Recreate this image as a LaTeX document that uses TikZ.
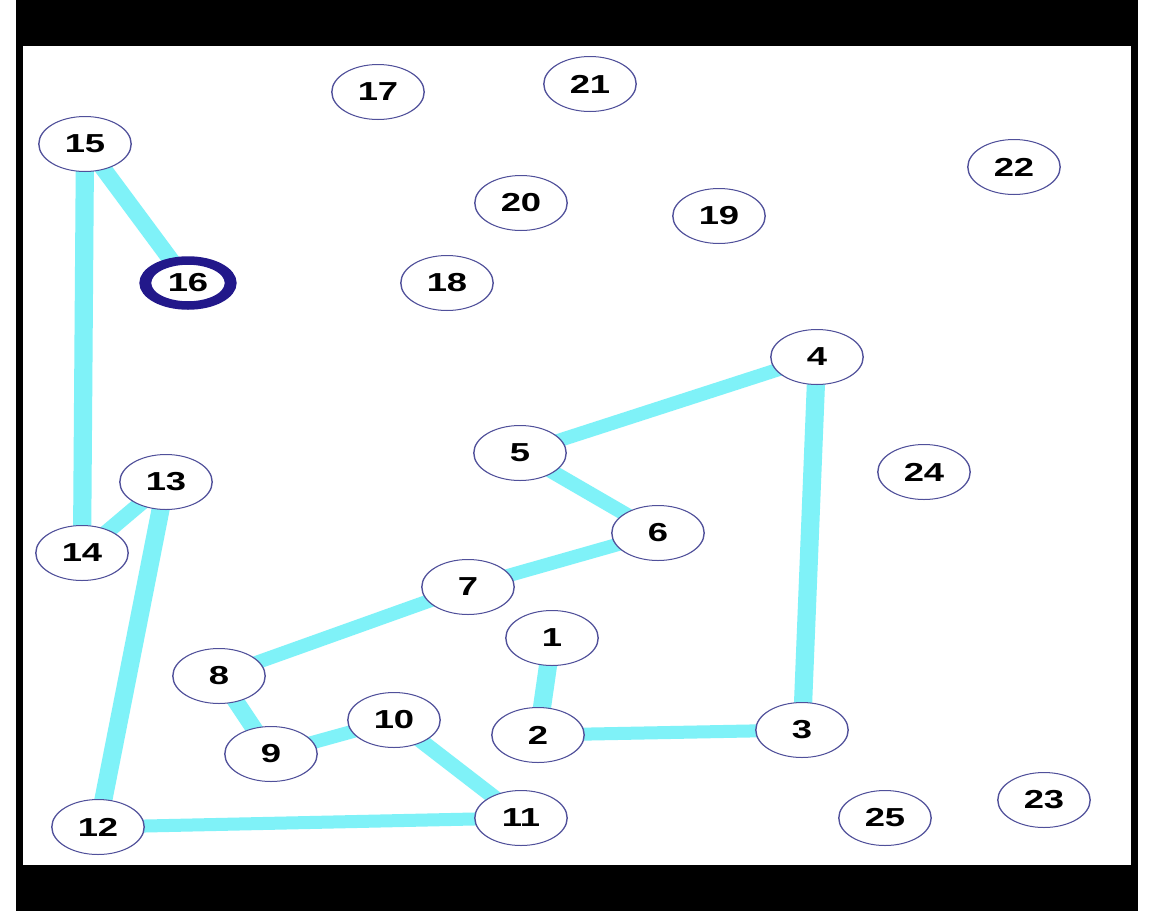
\documentclass[tikz,border=0pt]{standalone}
\usepackage{fontspec}
\setmainfont{Liberation Sans}
\usetikzlibrary{shapes.geometric}
\pgfdeclarelayer{frame}
\pgfdeclarelayer{bg}
\pgfsetlayers{frame,bg,main}
\definecolor{edgecyan}{HTML}{7FF2F8}
\definecolor{rimblue}{HTML}{50509A}
\definecolor{navy}{HTML}{22188A}
\tikzset{
  stretch/.style={transform canvas={xscale=1.4}, x=0.714286pt, y=-1pt},
  vert/.style={ellipse, draw=rimblue, line width=1pt, fill=white,
    minimum width=66pt, minimum height=55pt, inner sep=0pt,
    font=\fontsize{26}{26}\selectfont\bfseries},
  hot/.style={vert, draw=navy, line width=8.5pt, minimum width=61pt, minimum height=45pt},
  link/.style={draw=edgecyan, line width=13pt}
}
\begin{document}
\begin{tikzpicture}[x=1pt,y=-1pt]
\useasboundingbox (0,0) rectangle (1154,911);
\begin{pgfonlayer}{frame}
\fill[white] (0,0) rectangle (1154,911);
\fill[black] (16,0) rectangle (1138,911);
\fill[white] (23,46) rectangle (1131,865);
\end{pgfonlayer}
\begin{scope}[stretch]
\node[vert] (n1) at (552,638) {1};
\node[vert] (n2) at (538,735) {2};
\node[vert] (n3) at (802,730) {3};
\node[vert] (n4) at (817,357) {4};
\node[vert] (n5) at (520,453) {5};
\node[vert] (n6) at (658,533) {6};
\node[vert] (n7) at (468,587) {7};
\node[vert] (n8) at (219,676) {8};
\node[vert] (n9) at (271,754) {9};
\node[vert] (n10) at (394,720) {10};
\node[vert] (n11) at (521,818) {11};
\node[vert] (n12) at (98,827) {12};
\node[vert] (n13) at (166,482) {13};
\node[vert] (n14) at (82,553) {14};
\node[vert] (n15) at (85,144) {15};
\node[hot] (n16) at (188,283) {16};
\node[vert] (n17) at (378,92) {17};
\node[vert] (n18) at (447,283) {18};
\node[vert] (n19) at (719,216) {19};
\node[vert] (n20) at (521,203) {20};
\node[vert] (n21) at (590,84) {21};
\node[vert] (n22) at (1014,167) {22};
\node[vert] (n23) at (1044,800) {23};
\node[vert] (n24) at (924,472) {24};
\node[vert] (n25) at (885,818) {25};
\end{scope}
\begin{pgfonlayer}{bg}
\begin{scope}[stretch]
\draw[link] (n15.center) -- (n16.center);
\draw[link] (n15.center) -- (n14.center);
\draw[link] (n14.center) -- (n13.center);
\draw[link] (n13.center) -- (n12.center);
\draw[link] (n12.center) -- (n11.center);
\draw[link] (n11.center) -- (n10.center);
\draw[link] (n10.center) -- (n9.center);
\draw[link] (n9.center) -- (n8.center);
\draw[link] (n8.center) -- (n7.center);
\draw[link] (n7.center) -- (n6.center);
\draw[link] (n6.center) -- (n5.center);
\draw[link] (n5.center) -- (n4.center);
\draw[link] (n4.center) -- (n3.center);
\draw[link] (n3.center) -- (n2.center);
\draw[link] (n2.center) -- (n1.center);
\end{scope}
\end{pgfonlayer}
\end{tikzpicture}
\end{document}
